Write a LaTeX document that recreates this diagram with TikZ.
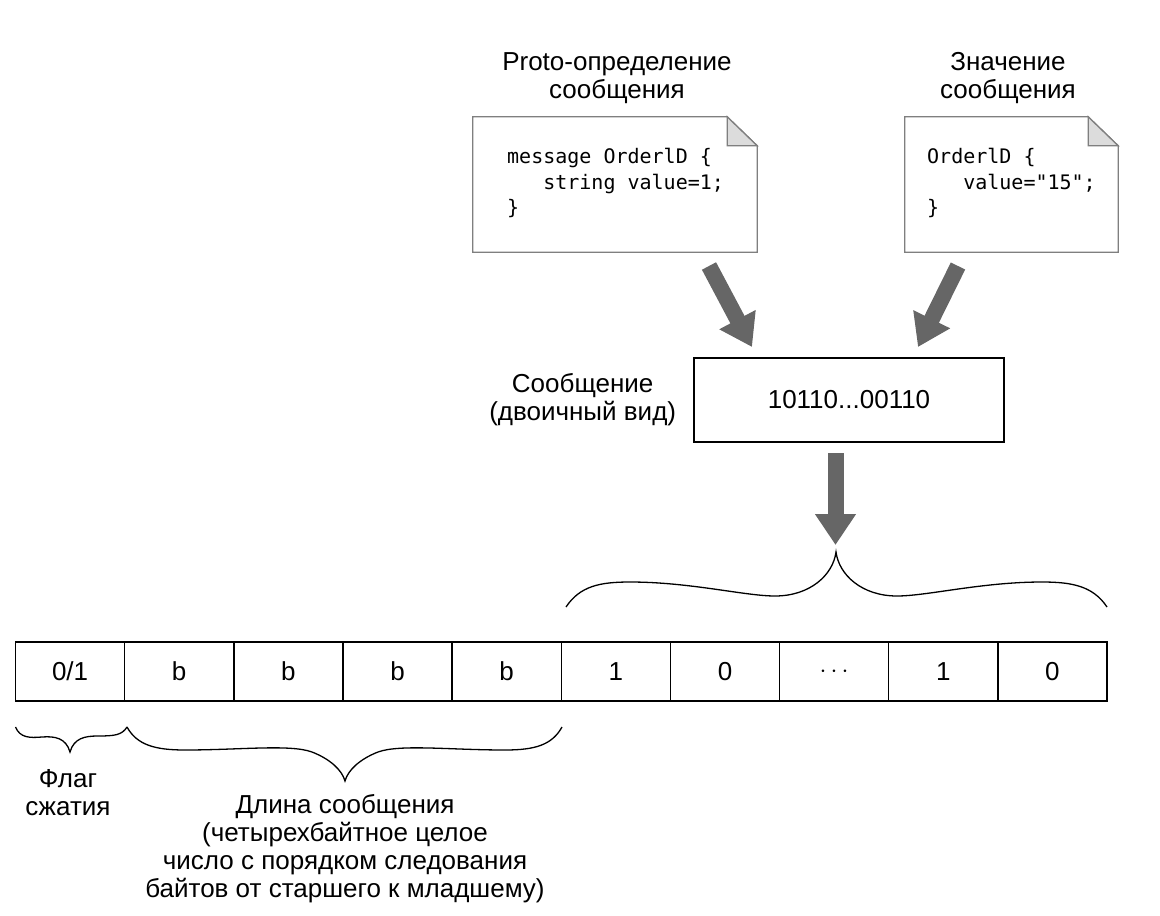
\documentclass[tikz,border=0pt]{standalone}
\usepackage{fontspec}
\setmainfont{Liberation Sans}
\newfontfamily\codefont{DejaVu Sans Mono}
\usetikzlibrary{arrows.meta,positioning}

\definecolor{arrowgrey}{HTML}{666666}
\definecolor{docline}{HTML}{7F7F7F}
\definecolor{dogear}{HTML}{DCDCDC}

\tikzset{
  txt/.style={font=\fontsize{26}{28}\selectfont, align=center, inner sep=0pt},
  code/.style={font=\codefont\fontsize{20}{25.5}\selectfont, align=left, anchor=north west, inner sep=0pt},
  docbox/.style={minimum width=284pt, minimum height=135pt, inner sep=0pt},
  bitbox/.style={draw, line width=1.4pt, minimum width=310pt, minimum height=84pt, inner sep=0pt, font=\fontsize{26}{28}\selectfont},
  cell/.style={draw, line width=1.4pt, minimum width=109.15pt, minimum height=59pt, inner sep=0pt, font=\fontsize{26}{28}\selectfont},
  fat/.style={draw=arrowgrey, line width=16pt, -{Triangle[length=31pt,width=39pt,fill=arrowgrey]}},
  brace/.style={line width=1.3pt}
}

\begin{document}
\begin{tikzpicture}[x=1pt,y=-1pt]
  \useasboundingbox (0,0) rectangle (1160,916);

  % the two documents
  \node[docbox] (proto) at (615,184.5) {};
  \node[docbox, minimum width=213pt] (value) at (1011.5,184.5) {};
  \foreach \doc in {proto,value} {
    \draw[docline, line width=1.3pt, fill=white] (\doc.south west) -- (\doc.north west)
      -- ([xshift=-30pt]\doc.north east) -- ([yshift=-29pt]\doc.north east)
      -- (\doc.south east) -- cycle;
    \draw[docline, line width=1.3pt, fill=dogear] ([xshift=-30pt]\doc.north east)
      -- ([xshift=-30pt,yshift=-29pt]\doc.north east) -- ([yshift=-29pt]\doc.north east) -- cycle;
  }
  \node[txt] (prototitle) at (617,78.5) {Proto-определение\\сообщения};
  \node[txt] (valuetitle) at (1008,78.5) {Значение\\сообщения};
  \node[code] (protocode) at (507,148) {message OrderlD \{\\\phantom{mes}string value=1;\\\}};
  \node[code] (valuecode) at (927,148) {OrderlD \{\\\phantom{Ord}value="15";\\\}};

  % binary message
  \node[bitbox] (bits) at (849,400) {10110...00110};
  \node[txt, left=17pt of bits] (bitslabel) {Сообщение\\(двоичный вид)};

  % fat arrows
  \coordinate (a1s) at (709,266);
  \coordinate (a1e) at (752,347);
  \coordinate (a2s) at (958,266);
  \coordinate (a2e) at (918,347);
  \coordinate (a3s) at (835.5,453);
  \coordinate (a3e) at (835.5,545);
  \draw[fat] (a1s) -- (a1e);
  \draw[fat] (a2s) -- (a2e);
  \draw[fat] (a3s) -- (a3e);

  % frame cells
  \foreach \lbl [count=\i] in {{0/1},b,b,b,b,1,0,$\cdots$,1,0}
    \node[cell] (c\i) at ({15.5+109.15*(\i-0.5)},671.5) {\lbl};

  % braces
  \draw[brace] (566,607) .. controls (580,586) and (600,582) .. (630,582)
    .. controls (690,582) and (745,596) .. (775,596)
    .. controls (810,596) and (833,575) .. (836,552)
    .. controls (839,575) and (862,596) .. (897,596)
    .. controls (927,596) and (982,582) .. (1042,582)
    .. controls (1072,582) and (1093,586) .. (1107,607);
  \draw[brace] (15.5,727) .. controls (20,738) and (30,738) .. (42,737)
    .. controls (55,736) and (66,738) .. (70,752)
    .. controls (74,738) and (85,736) .. (98,736)
    .. controls (115,736) and (122,735) .. (127,727);
  \draw[brace] (127,727) .. controls (137,745) and (155,750) .. (185,750)
    .. controls (240,750) and (290,744) .. (312,752)
    .. controls (330,759) and (342,770) .. (345,781)
    .. controls (348,770) and (360,759) .. (378,752)
    .. controls (400,744) and (450,750) .. (505,750)
    .. controls (535,750) and (552,745) .. (562,727);

  \node[txt] (flagtext) at (68,792.5) {Флаг\\сжатия};
  \node[txt] (lentext) at (345,849) {Длина сообщения\\(четырехбайтное целое\\число с порядком следования\\байтов от старшего к младшему)};
\end{tikzpicture}
\end{document}
